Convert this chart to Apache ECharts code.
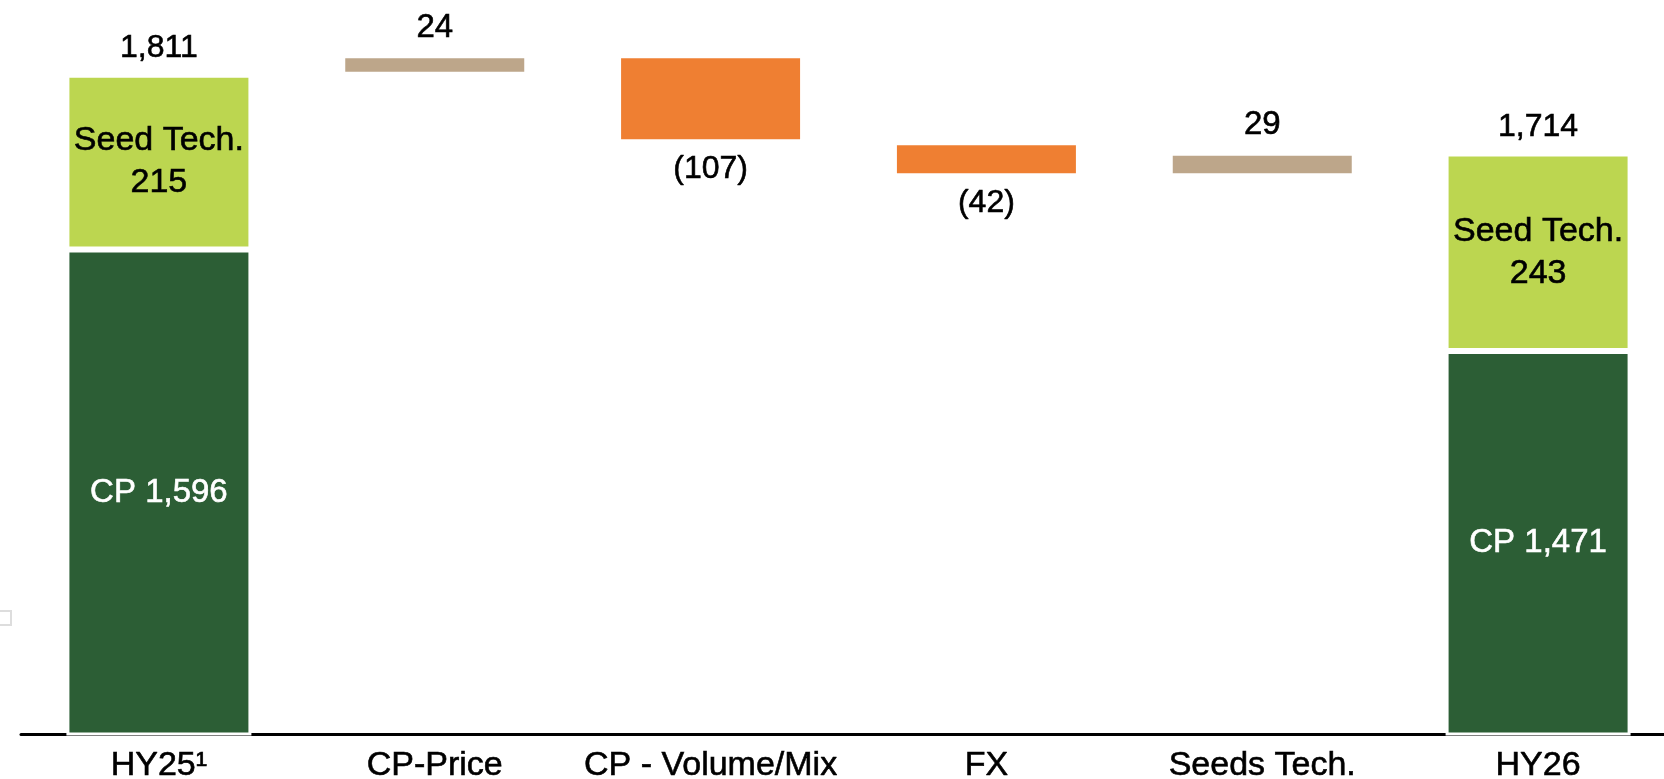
<!DOCTYPE html>
<html>
<head>
<meta charset="utf-8">
<script src="https://cdn.jsdelivr.net/npm/echarts@6/dist/echarts.min.js"></script>
<style>
  html, body { margin: 0; padding: 0; background: #fff; }
  #chart { width: 1664px; height: 779px; }
</style>
</head>
<body>
<div id="chart"></div>
<script>
const categories = ["HY25\u00b9", "CP-Price", "CP - Volume/Mix", "FX", "Seeds Tech.", "HY26"];
// totals split into crop protection and seed tech (only first / last column)
const cpValues = [1596, null, null, null, null, 1471];
const seedValues = [215, null, null, null, null, 243];
// bridge steps between the two totals
const deltas = [null, 24, -107, -42, 29, null];

const FONT = "'Liberation Sans', Arial, sans-serif";
const fmt = (v) => v.toLocaleString("en-US");
// slight outline to get the heavier look of the original text
const ink = (c) => ({ color: c, textBorderColor: c, textBorderWidth: 0.6, fontFamily: FONT });

// running total for the invisible base of each step
const base = [];
const ups = [];
const downs = [];
let running = cpValues[0] + seedValues[0];
deltas.forEach((d) => {
  if (d === null) {
    base.push("-"); ups.push("-"); downs.push("-");
    return;
  }
  if (d >= 0) {
    base.push(running); ups.push(d); downs.push("-");
  } else {
    base.push(running + d); ups.push("-"); downs.push(-d);
  }
  running += d;
});

const chart = echarts.init(document.getElementById("chart"));
const border = { borderColor: "#fff", borderWidth: 3 };

chart.setOption({
  animation: false,
  textStyle: { fontFamily: FONT },
  grid: { left: 21, width: 1655, top: 43, bottom: 45, outerBoundsMode: "none" },
  xAxis: {
    type: "category",
    data: categories,
    axisLine: { lineStyle: { color: "#000", width: 3 } },
    axisTick: { show: false },
    axisLabel: { interval: 0, fontSize: 34, margin: 15, ...ink("#000") },
  },
  yAxis: { type: "value", min: 1000, max: 1850, show: false, splitLine: { show: false } },
  series: [
    {
      name: "base",
      type: "bar",
      stack: "w",
      barWidth: 185,
      data: base,
      itemStyle: { color: "transparent" },
      silent: true,
    },
    {
      name: "CP",
      type: "bar",
      stack: "w",
      data: cpValues.map((v) => (v === null ? "-" : v)),
      itemStyle: { color: "#2c5e35", ...border },
      label: {
        show: true,
        position: "inside",
        fontSize: 33,
        ...ink("#fff"),
        formatter: (p) => "CP " + fmt(p.value),
      },
    },
    {
      name: "Seed Tech.",
      type: "bar",
      stack: "w",
      data: seedValues.map((v) => (v === null ? "-" : v)),
      itemStyle: { color: "#bcd650", ...border },
      label: {
        show: true,
        position: "inside",
        fontSize: 34,
        lineHeight: 42,
        ...ink("#000"),
        formatter: (p) => "Seed Tech.\n" + p.value,
      },
      markPoint: {
        symbol: "rect",
        symbolSize: 1,
        itemStyle: { color: "transparent" },
        label: { show: true, position: "top", distance: 10, fontSize: 32, ...ink("#000") },
        data: [0, 5].map((i) => {
          const total = cpValues[i] + seedValues[i];
          return { coord: [i, total], value: total, label: { formatter: fmt(total) } };
        }),
      },
    },
    {
      name: "up",
      type: "bar",
      stack: "w",
      data: ups,
      itemStyle: { color: "#bda68a", ...border },
      label: { show: true, position: "top", distance: 11, fontSize: 33, ...ink("#000") },
    },
    {
      name: "down",
      type: "bar",
      stack: "w",
      data: downs,
      itemStyle: { color: "#ef7f32", ...border },
      label: {
        show: true,
        position: "bottom",
        distance: 11,
        fontSize: 32,
        ...ink("#000"),
        formatter: (p) => "(" + p.value + ")",
      },
    },
  ],
  graphic: [
    { type: "rect", left: -3, top: 610, shape: { width: 13, height: 14 }, style: { fill: "#fff", stroke: "#ddd", lineWidth: 2 } },
  ],
});
</script>
</body>
</html>
